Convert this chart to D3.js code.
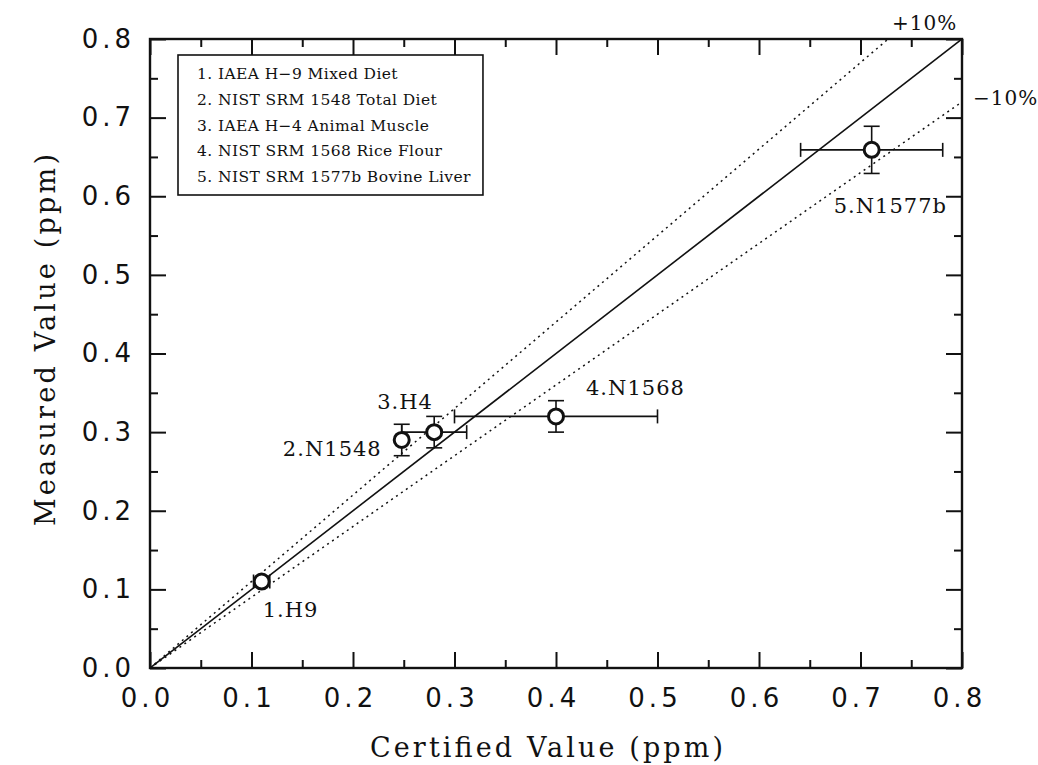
<!DOCTYPE html>
<html>
<head>
<meta charset="utf-8">
<script src="https://cdn.jsdelivr.net/npm/d3@7"></script>
<style>
  html, body { margin: 0; padding: 0; background: #fff; }
  svg { display: block; }
</style>
</head>
<body>
<svg id="chart" width="1038" height="765"></svg>
<script>
// Reference materials: certified vs measured concentration (ppm)
const sampleIds    = ["1.H9", "2.N1548", "3.H4", "4.N1568", "5.N1577b"];
const certified    = [0.110, 0.248, 0.280, 0.400, 0.711];
const certifiedErr = [0.008, 0.000, 0.032, 0.100, 0.070];
const measured     = [0.110, 0.290, 0.300, 0.320, 0.659];
const measuredErr  = [0.005, 0.020, 0.020, 0.020, 0.030];

const legendEntries = [
  "1. IAEA H\u22129 Mixed Diet",
  "2. NIST SRM 1548 Total Diet",
  "3. IAEA H\u22124 Animal Muscle",
  "4. NIST SRM 1568 Rice Flour",
  "5. NIST SRM 1577b Bovine Liver"
];

// 1:1 line and the ±10% agreement band
const refSlopes = [1.0, 1.1, 0.9];
const refNames  = ["", "+10%", "\u221210%"];

const majorTicks = [0, 0.1, 0.2, 0.3, 0.4, 0.5, 0.6, 0.7, 0.8];
const minorTicks = [0.05, 0.15, 0.25, 0.35, 0.45, 0.55, 0.65, 0.75];

const svg = d3.select("#chart");
const L = 150, R = 962, T = 39, B = 668;
const x = d3.scaleLinear().domain([0, 0.8]).range([L, R]);
const y = d3.scaleLinear().domain([0, 0.8]).range([B, T]);

const sans = "'DejaVu Sans', sans-serif";
const serif = "'DejaVu Serif', serif";

// reference lines, clipped to the plot frame
svg.append("clipPath").attr("id", "plotClip")
  .append("rect").attr("x", L).attr("y", T).attr("width", R - L).attr("height", B - T);
const refG = svg.append("g").attr("clip-path", "url(#plotClip)");
refSlopes.forEach((s, i) => {
  const xEnd = Math.min(0.8, 0.8 / s);
  refG.append("line")
    .attr("x1", x(0)).attr("y1", y(0))
    .attr("x2", x(xEnd)).attr("y2", y(xEnd * s))
    .attr("stroke", "#111")
    .attr("stroke-width", i === 0 ? 1.6 : 1.5)
    .attr("stroke-dasharray", i === 0 ? null : "2,4");
});

// axes with inward ticks on all four sides
function addAxis(axisFn, transform, values, size, fmt) {
  const ax = axisFn.tickValues(values).tickSize(-size).tickSizeOuter(0);
  ax.tickFormat(fmt || (() => ""));
  const g = svg.append("g").attr("transform", transform).call(ax);
  g.select(".domain").remove();
  g.selectAll(".tick line").attr("stroke", "#111").attr("stroke-width", 2);
  return g;
}
const fmt1 = d3.format(".1f");
const gx = addAxis(d3.axisBottom(x).tickPadding(21), `translate(0,${B})`, majorTicks, 16, fmt1);
addAxis(d3.axisBottom(x), `translate(0,${B})`, minorTicks, 8);
const gy = addAxis(d3.axisLeft(y).tickPadding(19), `translate(${L},0)`, majorTicks, 16, fmt1);
addAxis(d3.axisLeft(y), `translate(${L},0)`, minorTicks, 8);
addAxis(d3.axisTop(x), `translate(0,${T})`, majorTicks, 16);
addAxis(d3.axisTop(x), `translate(0,${T})`, minorTicks, 8);
addAxis(d3.axisRight(y), `translate(${R},0)`, majorTicks, 16);
addAxis(d3.axisRight(y), `translate(${R},0)`, minorTicks, 8);

[gx, gy].forEach(g => g.selectAll(".tick text")
  .attr("font-family", sans).attr("font-size", 26)
  .attr("letter-spacing", 4).attr("fill", "#111"));
gx.selectAll(".tick text").attr("dx", -3);
gy.selectAll(".tick text").attr("dx", 4);

// frame
svg.append("rect")
  .attr("x", L).attr("y", T).attr("width", R - L).attr("height", B - T)
  .attr("fill", "none").attr("stroke", "#111").attr("stroke-width", 2.4);

// error bars
const eb = svg.append("g").attr("stroke", "#111").attr("stroke-width", 1.6).attr("fill", "none");
certified.forEach((cx, i) => {
  const px = x(cx), py = y(measured[i]);
  const dx = certifiedErr[i], dy = measuredErr[i];
  if (dx > 0) {
    eb.append("line").attr("x1", x(cx - dx)).attr("x2", x(cx + dx)).attr("y1", py).attr("y2", py);
    [cx - dx, cx + dx].forEach(v => eb.append("line")
      .attr("x1", x(v)).attr("x2", x(v)).attr("y1", py - 7).attr("y2", py + 7));
  }
  if (dy > 0) {
    eb.append("line").attr("x1", px).attr("x2", px).attr("y1", y(measured[i] - dy)).attr("y2", y(measured[i] + dy));
    [measured[i] - dy, measured[i] + dy].forEach(v => eb.append("line")
      .attr("x1", px - 8).attr("x2", px + 8).attr("y1", y(v)).attr("y2", y(v)));
  }
});

// markers
svg.append("g").selectAll("circle")
  .data(certified)
  .join("circle")
  .attr("cx", d => x(d))
  .attr("cy", (d, i) => y(measured[i]))
  .attr("r", 7.5)
  .attr("fill", "#fff").attr("stroke", "#111").attr("stroke-width", 3);

// sample labels, placed beside each marker
const labelPlace = [
  { dx: 1, dy: 35, anchor: "start" },
  { dx: -20, dy: 16, anchor: "end" },
  { dx: -57, dy: -23, anchor: "start" },
  { dx: 30, dy: -21, anchor: "start" },
  { dx: -38, dy: 63, anchor: "start" }
];
svg.append("g").selectAll("text")
  .data(sampleIds)
  .join("text")
  .attr("x", (d, i) => x(certified[i]) + labelPlace[i].dx)
  .attr("y", (d, i) => y(measured[i]) + labelPlace[i].dy)
  .attr("text-anchor", (d, i) => labelPlace[i].anchor)
  .attr("font-family", serif).attr("font-size", 21)
  .attr("letter-spacing", 1)
  .attr("fill", "#111")
  .text(d => d);

// band labels
svg.append("text").attr("x", 892).attr("y", 30)
  .attr("font-family", serif).attr("font-size", 20).attr("letter-spacing", 1).attr("fill", "#111")
  .text(refNames[1]);
svg.append("text").attr("x", 973).attr("y", 105)
  .attr("font-family", serif).attr("font-size", 20).attr("letter-spacing", 1).attr("fill", "#111")
  .text(refNames[2]);

// legend
const lg = svg.append("g");
const lgRect = lg.append("rect")
  .attr("x", 178).attr("y", 55).attr("height", 140)
  .attr("fill", "#fff").attr("stroke", "#111").attr("stroke-width", 1.6);
const lgText = lg.selectAll("text")
  .data(legendEntries)
  .join("text")
  .attr("x", 197)
  .attr("y", (d, i) => 79 + i * 25.8)
  .attr("font-family", serif).attr("font-size", 15.5)
  .attr("letter-spacing", 0.4)
  .attr("fill", "#111")
  .text(d => d);
let maxRight = 0;
lgText.each(function () { const b = this.getBBox(); maxRight = Math.max(maxRight, b.x + b.width); });
lgRect.attr("width", maxRight + 12 - 178);

// axis titles
svg.append("text")
  .attr("x", 370).attr("y", 757)
  .attr("font-family", serif).attr("font-size", 27).attr("fill", "#111")
  .attr("textLength", 353).attr("lengthAdjust", "spacing")
  .text("Certified Value (ppm)");
svg.append("text")
  .attr("transform", "translate(55,340) rotate(-90)")
  .attr("text-anchor", "middle")
  .attr("font-family", serif).attr("font-size", 27).attr("fill", "#111")
  .attr("textLength", 372).attr("lengthAdjust", "spacing")
  .text("Measured Value (ppm)");
</script>
</body>
</html>
